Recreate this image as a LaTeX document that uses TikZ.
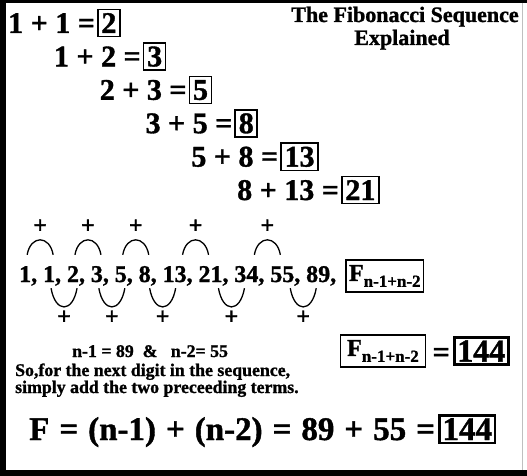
\documentclass[tikz,border=0pt]{standalone}
\usepackage{fontspec}
\setmainfont{Liberation Serif}[BoldFeatures={FakeBold=1.2}]
\usetikzlibrary{positioning,calc}

\newcommand{\px}[1]{\fontsize{#1}{#1}\selectfont\bfseries}
\newcommand{\Fsub}{F\raisebox{-6pt}{\px{17}n-1+n-2}}

\begin{document}
\begin{tikzpicture}[x=1pt, y=-1pt,
  sum/.style={inner sep=0pt, anchor=base west, font=\px{30}},
  ans/.style={draw, line width=1.6pt, inner sep=3.5pt, anchor=base west, font=\px{30}},
  term/.style={inner sep=0pt, font=\px{24}, text height=17pt, text depth=5pt},
  bow/.style={line width=1.3pt},
  plus/.style={inner sep=0pt, font=\px{24}},
  fterm/.style={draw, line width=1.3pt, inner xsep=3pt, inner ysep=5pt, font=\px{24}},
  head/.style={inner sep=0pt, anchor=base, font=\px{22}},
  note/.style={inner sep=0pt, anchor=base west, font=\px{17.8}}]
\useasboundingbox (0,0) rectangle (527,476);
% heavy frame
\fill (0,0) rectangle (527,3);
\fill (0,0) rectangle (6,476);
\fill (0,470) rectangle (527,476);
\draw[black!25, line width=0.8pt] (522,3) -- (522,470);
% title
\node[head] (title) at (405,22) {The Fibonacci Sequence};
\node[head] (title2) at (402,45) {Explained};
% staircase of sums
\foreach \m/\n/\s [count=\i from 0] in {1/1/2,1/2/3,2/3/5,3/5/8,5/8/13,8/13/21}{
  \node[sum] (q\i) at (8+45.8*\i,33+33.4*\i) {\m{} + \n{} =};
  \node[ans] (r\i) at ([xshift=2pt]q\i.base east) {\s};
}
% the sequence itself
\node[term, anchor=base west] (s1) at (19,282) {1,};
\foreach \v [count=\i from 2] in {1,2,3,5,8,13,21,34,55,89}{
  \pgfmathtruncatemacro\j{\i-1}
  \node[term, right=5.5pt of s\j] (s\i) {\v,};
}
\node[fterm, right=9pt of s11] (fs) {\Fsub};
% pairs added above the line
\foreach \m/\n in {1/2,3/4,5/6,7/8,9/10}{
  \path ($(s\m.north)!0.5!(s\n.north)$) ++(-13,-10) coordinate (ua\m) ++(26,0) coordinate (ub\m);
  \draw[bow] (ua\m) to[out=80,in=100,looseness=2] node[plus, above=6pt]{+} (ub\m);
}
% pairs added below the line
\foreach \m/\n in {2/3,4/5,6/7,8/9,10/11}{
  \path ($(s\m.south)!0.5!(s\n.south)$) ++(-13,1) coordinate (da\m) ++(26,0) coordinate (db\m);
  \draw[bow] (da\m) to[out=-80,in=-100,looseness=2.5] node[plus, below=3pt]{+} (db\m);
}
% next term
\node[fterm, inner xsep=7pt, inner ysep=5pt] (fr) at (383,351) {\Fsub};
\node[sum, right=6pt of fr, yshift=-4pt] (eqr) {=};
\node[ans, line width=2.6pt, font=\px{32}, inner sep=3pt, anchor=west] (tot) at ([xshift=3pt]fr.east -| eqr.east) {144};
% explanation
\node[note] (given) at (72,357) {n-1 = 89 \ \& \ \ n-2= 55};
\node[note] (hint) at (15,376) {So,for the next digit in the sequence,};
\node[note] (hint2) at (15,393) {simply add the two preceeding terms.};
% closing formula
\node[sum, font=\px{33}] (rule) at (29,440) {\spaceskip=10pt F = (n-1) + (n-2) = 89 + 55 =};
\node[ans, font=\px{33}, line width=2.6pt, inner sep=3pt] (res) at ([xshift=3pt]rule.base east) {144};
\end{tikzpicture}
\end{document}
